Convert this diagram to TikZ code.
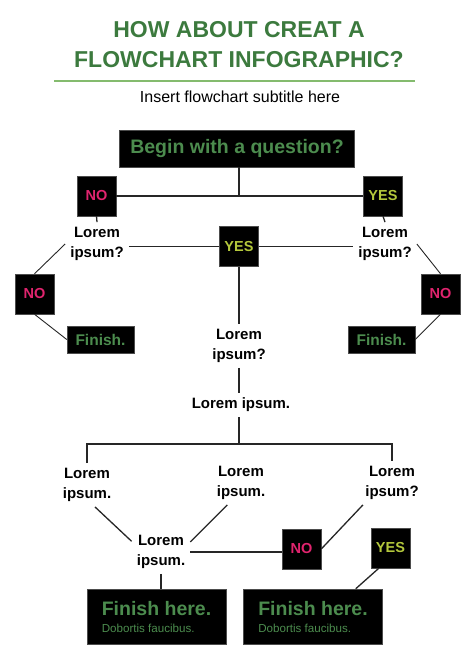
\documentclass[tikz,border=0pt]{standalone}
\usepackage{fontspec}
\setmainfont{Liberation Sans}
\usepackage{tikz}
\usetikzlibrary{positioning,calc}
\definecolor{titlegreen}{HTML}{3C7A3E}
\definecolor{boxgreen}{HTML}{4C8C4E}
\definecolor{rulegreen}{HTML}{84BB6E}
\definecolor{nopink}{HTML}{E0246E}
\definecolor{yesgreen}{HTML}{B4C83C}

\begin{document}
\begin{tikzpicture}[x=1pt,y=-1pt]
\tikzset{link/.style={draw=black!85,line width=1.3pt}}
\tikzset{blackbox/.style={fill=black,draw=black!70,line width=0.5pt}}
\tikzset{nobox/.style={blackbox,minimum width=39pt,minimum height=40pt,inner sep=0pt,
text=nopink,font=\fontsize{14.5}{16}\selectfont\bfseries}}
\tikzset{yesbox/.style={nobox,text=yesgreen}}
\tikzset{lorem/.style={align=center,inner sep=5pt,font=\fontsize{15}{20}\selectfont\bfseries}}
\tikzset{finbox/.style={blackbox,minimum width=67pt,minimum height=27pt,inner sep=0pt,
text=boxgreen,font=\fontsize{15.5}{17}\selectfont\bfseries}}
\tikzset{endbox/.style={blackbox,align=left,minimum width=139pt,
minimum height=55pt,text=boxgreen}}
\useasboundingbox (0,0) rectangle (474,670);
% heading
\node[align=center,text=titlegreen,font=\fontsize{23}{30}\selectfont\bfseries] (title) at (239,45)
{HOW ABOUT CREAT A\\FLOWCHART INFOGRAPHIC?};
\coordinate (ruleA) at (54,81);
\coordinate (ruleB) at (415,81);
\draw[rulegreen,line width=1.2pt] (ruleA) -- (ruleB);
\node[font=\fontsize{16}{18}\selectfont] (subtitle) at (240,97) {Insert flowchart subtitle here};
% first question
\node[blackbox,minimum width=235pt,minimum height=37pt,inner sep=0pt,text=boxgreen,
font=\fontsize{19.5}{22}\selectfont\bfseries] (ask) at (237,148.5) {Begin with a question?};
\node[nobox] (noA) at (96.5,196) {NO};
\node[yesbox] (yesA) at (383,196) {YES};
\node[lorem] (askL) at (97,244) {Lorem\\ipsum?};
\node[lorem] (askR) at (385,244) {Lorem\\ipsum?};
\node[yesbox] (yesB) at (239,246.5) {YES};
\node[nobox] (noL) at (34.5,294) {NO};
\node[nobox] (noR) at (440.5,294) {NO};
\node[finbox] (finL) at (100.5,339.5) {Finish.};
\node[finbox] (finR) at (381.5,339.5) {Finish.};
\node[lorem] (askC) at (239,346) {Lorem\\ipsum?};
% second part
\node[lorem] (mid) at (241,405) {Lorem ipsum.};
\coordinate (split) at (239,444);
\node[lorem] (stepA) at (87,485) {Lorem\\ipsum.};
\node[lorem] (stepB) at (241,483) {Lorem\\ipsum.};
\node[lorem] (stepC) at (392,483) {Lorem\\ipsum?};
\node[lorem] (join) at (161,552) {Lorem\\ipsum.};
\node[nobox] (noD) at (301.5,549) {NO};
\node[yesbox] (yesD) at (390.5,548) {YES};
\node[endbox] (endL) at (156.5,616.5)
{{\fontsize{19.5}{22}\selectfont\bfseries Finish here.}\\[5pt]{\fontsize{11.6}{14}\selectfont Dobortis faucibus.}};
\node[endbox] (endR) at (313,616.5)
{{\fontsize{19.5}{22}\selectfont\bfseries Finish here.}\\[5pt]{\fontsize{11.6}{14}\selectfont Dobortis faucibus.}};
% connectors
\draw[link] (ask.south -| split) -- (split |- noA.east);
\draw[link] (noA.east) -- (yesA.west);
\draw[link] (noA.south) -- (askL.north);
\draw[link] (yesA.south) -- (askR.north);
\draw[link] (askL.east |- yesB.west) -- (yesB.west);
\draw[link] (yesB.east) -- (askR.west |- yesB.east);
\draw[link] (yesB.south) -- (askC.north);
\draw[link,line width=0.9pt] (askL.west) -- (noL.north);
\draw[link,line width=0.9pt] (noL.south) -- (finL.west);
\draw[link,line width=0.9pt] (askR.east) -- (noR.north);
\draw[link,line width=0.9pt] (noR.south) -- (finR.east);
\draw[link] (askC.south) -- (askC.south |- mid.north);
\draw[link] (split |- mid.south) -- (split);
\draw[link] (stepA.north) -- (stepA.north |- split) -- (stepC.north |- split) -- (stepC.north);
\draw[link] (stepA.-70) -- (join.160);
\draw[link] (stepB.238) -- (join.19);
\draw[link] (join.east) -- (join.east -| noD.west);
\draw[link] (stepC.217) -- (noD.east);
\draw[link] (join.south) -- (join.south |- endL.north);
\draw[link] (yesD.240) -- (endR.33);
\end{tikzpicture}
\end{document}
